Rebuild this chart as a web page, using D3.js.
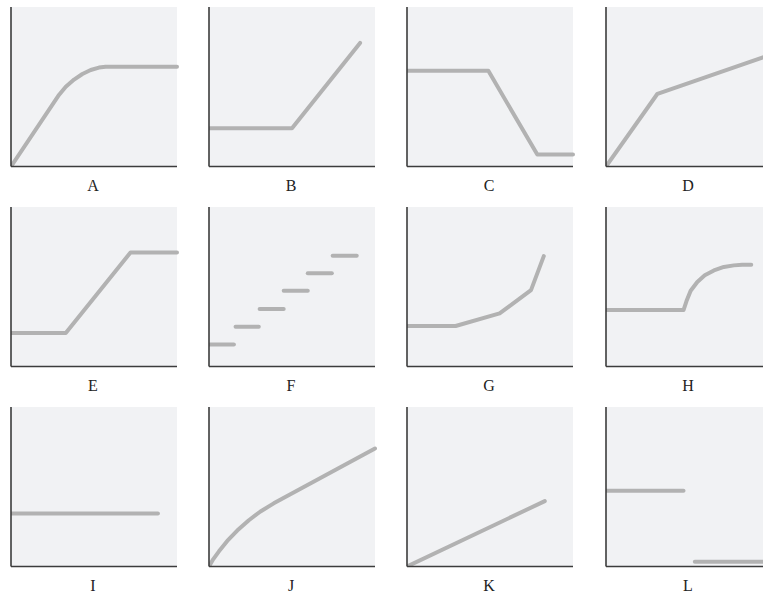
<!DOCTYPE html>
<html>
<head>
<meta charset="utf-8">
<script src="https://cdn.jsdelivr.net/npm/d3@7"></script>
<style>
  html, body { margin: 0; padding: 0; background: #ffffff; }
  svg { display: block; }
</style>
</head>
<body>
<svg id="chart" width="763" height="595"></svg>
<script>
// ---- DATA (x and y on a 0..10 scale within each small panel) ----
const labels = ["A","B","C","D","E","F","G","H","I","J","K","L"];

const seriesA = [[[0,0],[2.9,4.5],[3.3,5.0],[3.8,5.45],[4.3,5.8],[4.8,6.05],[5.3,6.2],[5.7,6.25],[10,6.25]]];
const seriesB = [[[0,2.4],[5.0,2.4],[9.1,7.75]]];
const seriesC = [[[0,6.0],[4.9,6.0],[7.85,0.75],[10,0.75]]];
const seriesD = [[[0,0],[3.1,4.56],[10,7.03]]];
const seriesE = [[[0,2.1],[3.3,2.1],[7.2,7.15],[10,7.15]]];
const seriesF = [
  [[0.05,1.375],[1.5,1.375]],
  [[1.6,2.5],[3.0,2.5]],
  [[3.05,3.6],[4.5,3.6]],
  [[4.5,4.75],[5.95,4.75]],
  [[5.95,5.85],[7.4,5.85]],
  [[7.45,6.95],[8.9,6.95]]
];
const seriesG = [[[0,2.54],[2.93,2.54],[5.58,3.33],[7.47,4.79],[8.24,6.92]]];
const seriesH = [[[0,3.54],[4.67,3.54],[4.85,4.1],[5.1,4.75],[5.5,5.3],[5.95,5.72],[6.5,6.02],[7.1,6.24],[7.7,6.34],[8.2,6.38],[8.75,6.38]]];
const seriesI = [[[0,3.33],[8.85,3.33]]];
const seriesJ = [[[0,0],[0.25,0.45],[0.6,0.95],[1.1,1.6],[1.7,2.25],[2.4,2.9],[3.1,3.45],[3.9,3.96],[10,7.4]]];
const seriesK = [[[0,0],[8.3,4.1]]];
const seriesL = [
  [[0,4.75],[4.67,4.75]],
  [[5.35,0.3],[10.2,0.3]]
];

const allSeries = [seriesA,seriesB,seriesC,seriesD,seriesE,seriesF,seriesG,seriesH,seriesI,seriesJ,seriesK,seriesL];

// ---- LAYOUT ----
const colX = [11, 209, 407, 606];
const rowY = [7, 207, 407];
const pw = 166, ph = 159.5;

const svg = d3.select("#chart");
const x = d3.scaleLinear().domain([0,10]).range([0,pw]);
const y = d3.scaleLinear().domain([0,10]).range([ph,0]);
const line = d3.line().x(d => x(d[0])).y(d => y(d[1])).curve(d3.curveLinear);

const defs = svg.append("defs");

labels.forEach((lab, i) => {
  const c = i % 4, r = Math.floor(i / 4);
  const g = svg.append("g").attr("transform", `translate(${colX[c]},${rowY[r]})`);
  const clipId = "clip" + i;
  defs.append("clipPath").attr("id", clipId)
    .append("rect").attr("x", 0).attr("y", -4).attr("width", pw + 4).attr("height", ph + 4);

  g.append("rect").attr("x",0).attr("y",0).attr("width",pw).attr("height",ph)
    .attr("fill","#f1f2f4");

  g.append("g").attr("clip-path", `url(#${clipId})`)
    .selectAll("path").data(allSeries[i]).enter().append("path")
    .attr("d", line)
    .attr("fill","none")
    .attr("stroke","#b2b2b2")
    .attr("stroke-width",4)
    .attr("stroke-linecap","round")
    .attr("stroke-linejoin","round");

  // axes
  g.append("line").attr("x1",0).attr("x2",0).attr("y1",0).attr("y2",ph)
    .attr("stroke","#3c3c3c").attr("stroke-width",1.6);
  g.append("line").attr("x1",0).attr("x2",pw).attr("y1",ph).attr("y2",ph)
    .attr("stroke","#3c3c3c").attr("stroke-width",1.6);

  g.append("text").attr("x", pw/2 - 1).attr("y", ph + 24)
    .attr("text-anchor","middle")
    .attr("font-family","'Liberation Serif','DejaVu Serif',serif")
    .attr("font-size",16)
    .attr("fill","#222")
    .text(lab);
});
</script>
</body>
</html>
